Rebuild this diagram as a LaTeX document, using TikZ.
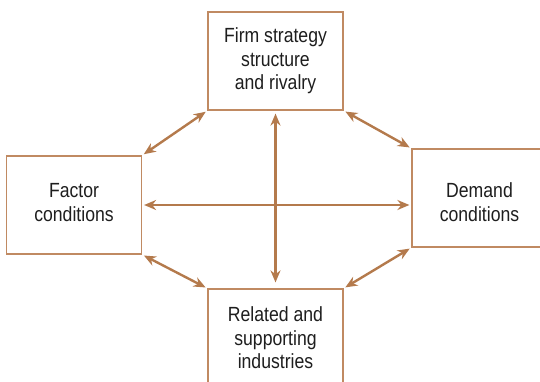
\documentclass[tikz,border=0pt]{standalone}
\usepackage{fontspec}
\setmainfont[FakeStretch=0.86]{Liberation Sans}
\usetikzlibrary{arrows.meta}
\definecolor{arrowbrown}{HTML}{B47A4C}
\definecolor{boxbrown}{HTML}{C08A62}
\definecolor{textgray}{HTML}{1E1E1E}
\begin{document}
\begin{tikzpicture}[x=1pt,y=-1pt,
  factor/.style={draw=boxbrown, line width=1.2pt, fill=white,
    minimum width=135pt, minimum height=98pt, inner sep=0pt,
    align=center, text=textgray,
    font=\fontsize{20.5}{23.5}\selectfont},
  caption/.style={align=center, text=textgray, inner sep=0pt,
    font=\fontsize{20.5}{23.5}\selectfont},
  link/.style={draw=arrowbrown, line width=2.4pt,
    {Stealth[length=12pt,width=10pt]}-{Stealth[length=12pt,width=10pt]},
    shorten <=2pt, shorten >=2pt}]
  \useasboundingbox (0,0) rectangle (540,382);
  \node[factor] (T) at (275.5,61) {Firm strategy\\structure\\and rivalry};
  \node[factor] (L) at (74,205) {};
  \node[caption] (Lt) at (74,202.5) {Factor\\conditions};
  \node[factor] (R) at (479.5,198) {};
  \node[caption] (Rt) at (479.5,202) {Demand\\conditions};
  \node[factor] (B) at (275.5,338) {Related and\\supporting\\industries};
  % diagonal links around the diamond
  \draw[link] (L.north east) -- (T.south west);
  \draw[link] (T.south east) -- (R.north west);
  \draw[link] (L.south east) -- (B.north west);
  \draw[link] (B.north east) -- (R.south west);
  % the central cross
  \draw[link, shorten <=3pt, shorten >=6pt] (T.south) -- (B.north);
  \draw[link] (L.east) -- (L.east -| R.west);
\end{tikzpicture}
\end{document}
